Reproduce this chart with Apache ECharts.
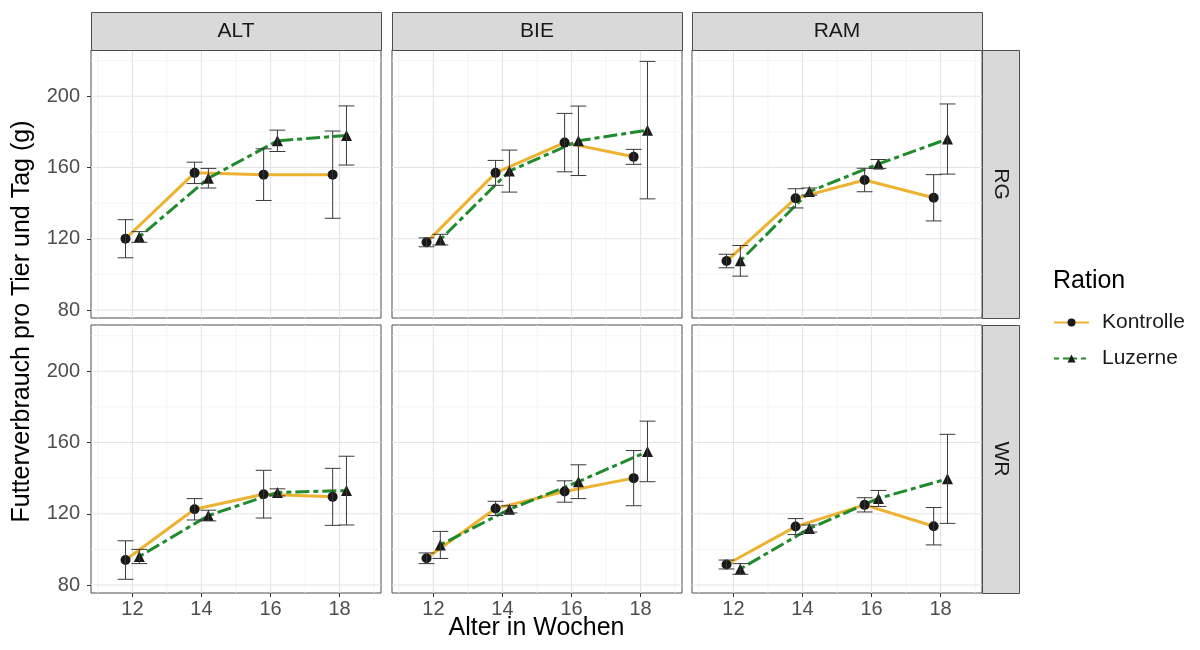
<!DOCTYPE html>
<html>
<head>
<meta charset="utf-8">
<script src="https://cdn.jsdelivr.net/npm/echarts@6/dist/echarts.min.js"></script>
<style>
  html, body { margin: 0; padding: 0; background: #fff; }
  #chart { width: 1200px; height: 650px; }
</style>
</head>
<body>
<div id="chart"></div>
<script>
// Feed intake per animal and day by age, station (columns) and housing (rows)
const weeks = [12, 14, 16, 18];
const stations = ['ALT', 'BIE', 'RAM'];
const housings = ['RG', 'WR'];
const rations = ['Kontrolle', 'Luzerne'];
const yTicks = [80, 120, 160, 200];
const yMinor = [100, 140, 180, 220];
const xMinor = [11, 13, 15, 17, 19];

// means and error half-widths (g), one value per week
const ALT_RG_Kontrolle = [120, 157, 156, 156];
const ALT_RG_Kontrolle_err = [10.7, 6, 14.5, 24.5];
const ALT_RG_Luzerne = [121, 154, 175, 178];
const ALT_RG_Luzerne_err = [3, 5.5, 6, 16.6];
const BIE_RG_Kontrolle = [118, 157, 174, 166];
const BIE_RG_Kontrolle_err = [2.5, 7, 16.4, 4.2];
const BIE_RG_Luzerne = [119.5, 158, 175, 181];
const BIE_RG_Luzerne_err = [3, 11.8, 19.5, 38.6];
const RAM_RG_Kontrolle = [107.5, 142.7, 153, 143];
const RAM_RG_Kontrolle_err = [3.8, 5.4, 6.6, 13];
const RAM_RG_Luzerne = [107.6, 146.5, 162, 176];
const RAM_RG_Luzerne_err = [8.6, 2, 2.5, 19.7];
const ALT_WR_Kontrolle = [94, 122.5, 131, 129.5];
const ALT_WR_Kontrolle_err = [10.8, 6, 13.4, 16];
const ALT_WR_Luzerne = [96, 119, 132, 133];
const ALT_WR_Luzerne_err = [4, 3, 2, 19.3];
const BIE_WR_Kontrolle = [95, 123, 132.5, 140];
const BIE_WR_Kontrolle_err = [3, 4, 6, 15.5];
const BIE_WR_Luzerne = [102.5, 122.5, 138, 155];
const BIE_WR_Luzerne_err = [7.6, 2, 9.5, 17];
const RAM_WR_Kontrolle = [91.5, 112.8, 125, 113];
const RAM_WR_Kontrolle_err = [2.5, 4.5, 4, 10.5];
const RAM_WR_Luzerne = [89, 111.7, 128.6, 139.6];
const RAM_WR_Luzerne_err = [3, 2, 4.5, 25];

const table = {
  ALT_RG_Kontrolle: [ALT_RG_Kontrolle, ALT_RG_Kontrolle_err],
  ALT_RG_Luzerne: [ALT_RG_Luzerne, ALT_RG_Luzerne_err],
  BIE_RG_Kontrolle: [BIE_RG_Kontrolle, BIE_RG_Kontrolle_err],
  BIE_RG_Luzerne: [BIE_RG_Luzerne, BIE_RG_Luzerne_err],
  RAM_RG_Kontrolle: [RAM_RG_Kontrolle, RAM_RG_Kontrolle_err],
  RAM_RG_Luzerne: [RAM_RG_Luzerne, RAM_RG_Luzerne_err],
  ALT_WR_Kontrolle: [ALT_WR_Kontrolle, ALT_WR_Kontrolle_err],
  ALT_WR_Luzerne: [ALT_WR_Luzerne, ALT_WR_Luzerne_err],
  BIE_WR_Kontrolle: [BIE_WR_Kontrolle, BIE_WR_Kontrolle_err],
  BIE_WR_Luzerne: [BIE_WR_Luzerne, BIE_WR_Luzerne_err],
  RAM_WR_Kontrolle: [RAM_WR_Kontrolle, RAM_WR_Kontrolle_err],
  RAM_WR_Luzerne: [RAM_WR_Luzerne, RAM_WR_Luzerne_err]
};

// layout
const FONT = '"Liberation Sans", Arial, sans-serif';
const colLeft = [91, 392, 692];
const panelW = 290;
const rowTop = [50, 325];
const panelH = 268;
const stripH = 38;
const stripW = 37;
const X_MIN = 10.8, X_MAX = 19.2;
const Y_MIN = 75.5, Y_MAX = 226;
const dodge = { Kontrolle: -0.2, Luzerne: 0.2 };
const style = {
  Kontrolle: { color: '#EDB230', type: 'solid', symbol: 'circle', size: 10 },
  Luzerne: { color: '#218A2C', type: [5, 4, 14, 4], symbol: 'triangle', size: 11 }
};

const grids = [], xAxes = [], yAxes = [], series = [], graphics = [];

housings.forEach((h, r) => {
  stations.forEach((s, c) => {
    const i = grids.length;
    grids.push({
      left: colLeft[c], top: rowTop[r], width: panelW, height: panelH,
      show: true, backgroundColor: '#fff', borderColor: '#4d4d4d', borderWidth: 1
    });
    xAxes.push({
      type: 'value', gridIndex: i, min: X_MIN, max: X_MAX,
      axisLine: { show: false }, splitLine: { show: false },
      axisTick: { show: r === 1, customValues: weeks, length: 4, lineStyle: { color: '#333' } },
      axisLabel: { show: r === 1, customValues: weeks, margin: 6, color: '#4d4d4d', fontSize: 20, fontFamily: FONT }
    });
    yAxes.push({
      type: 'value', gridIndex: i, min: Y_MIN, max: Y_MAX,
      axisLine: { show: false }, splitLine: { show: false },
      axisTick: { show: c === 0, customValues: yTicks, length: 4, lineStyle: { color: '#333' } },
      axisLabel: { show: c === 0, customValues: yTicks, margin: 11, color: '#4d4d4d', fontSize: 20, fontFamily: FONT }
    });

    // panel grid lines (major and minor)
    const gridData = [];
    weeks.forEach(v => gridData.push([0, v, 1]));
    xMinor.forEach(v => gridData.push([0, v, 0]));
    yTicks.forEach(v => gridData.push([1, v, 1]));
    yMinor.forEach(v => gridData.push([1, v, 0]));
    series.push({
      type: 'custom', xAxisIndex: i, yAxisIndex: i, silent: true, z: 1,
      data: gridData,
      encode: { x: [], y: [] },
      renderItem: (params, api) => {
        const isY = api.value(0) === 1;
        const v = api.value(1);
        const major = api.value(2) === 1;
        const p1 = isY ? api.coord([X_MIN, v]) : api.coord([v, Y_MIN]);
        const p2 = isY ? api.coord([X_MAX, v]) : api.coord([v, Y_MAX]);
        return {
          type: 'line',
          shape: { x1: p1[0], y1: p1[1], x2: p2[0], y2: p2[1] },
          style: { stroke: major ? '#E4E4E4' : '#F1F1F1', lineWidth: major ? 1.1 : 0.8 }
        };
      }
    });

    rations.forEach(rat => {
      const [mean, err] = table[s + '_' + h + '_' + rat];
      const st = style[rat];
      series.push({
        type: 'line', name: rat, xAxisIndex: i, yAxisIndex: i, z: 3,
        data: weeks.map((w, k) => [w + dodge[rat], mean[k]]),
        symbol: st.symbol, symbolSize: st.size, showSymbol: true,
        itemStyle: { color: '#1a1a1a' },
        lineStyle: { color: st.color, width: 3, type: st.type },
        emphasis: { disabled: true },
        animation: false
      });
      series.push({
        type: 'custom', xAxisIndex: i, yAxisIndex: i, z: 4, silent: true,
        data: weeks.map((w, k) => [w + dodge[rat], mean[k] - err[k], mean[k] + err[k]]),
        encode: { x: 0, y: [1, 2] },
        renderItem: (params, api) => {
          const x = api.value(0);
          const lo = api.coord([x, api.value(1)]);
          const hi = api.coord([x, api.value(2)]);
          const half = (api.coord([x + 0.23, 0])[0] - api.coord([x, 0])[0]);
          const ls = { stroke: '#3a3a3a', lineWidth: 1 };
          return {
            type: 'group',
            children: [
              { type: 'line', shape: { x1: lo[0], y1: lo[1], x2: hi[0], y2: hi[1] }, style: ls },
              { type: 'line', shape: { x1: lo[0] - half, y1: lo[1], x2: lo[0] + half, y2: lo[1] }, style: ls },
              { type: 'line', shape: { x1: hi[0] - half, y1: hi[1], x2: hi[0] + half, y2: hi[1] }, style: ls }
            ]
          };
        }
      });
    });
  });
});

// facet strips: stations on top, housing on the right
stations.forEach((s, c) => {
  graphics.push({
    type: 'rect', left: colLeft[c], top: rowTop[0] - stripH,
    shape: { width: panelW, height: stripH },
    style: { fill: '#D9D9D9', stroke: '#4d4d4d', lineWidth: 1 }, z: 10
  });
  graphics.push({
    type: 'text', x: colLeft[c] + panelW / 2, y: rowTop[0] - stripH / 2,
    style: { text: s, fill: '#1a1a1a', font: '21px ' + FONT, align: 'center', verticalAlign: 'middle' }, z: 11
  });
});
housings.forEach((h, r) => {
  const x0 = colLeft[2] + panelW;
  graphics.push({
    type: 'rect', left: x0, top: rowTop[r],
    shape: { width: stripW, height: panelH },
    style: { fill: '#D9D9D9', stroke: '#4d4d4d', lineWidth: 1 }, z: 10
  });
  graphics.push({
    type: 'text', x: x0 + stripW / 2, y: rowTop[r] + panelH / 2, rotation: -Math.PI / 2,
    style: { text: h, fill: '#1a1a1a', font: '21px ' + FONT, align: 'center', verticalAlign: 'middle' }, z: 11
  });
});

// axis titles and legend title
graphics.push({
  type: 'text', x: (colLeft[0] + colLeft[2] + panelW) / 2, y: 628,
  style: { text: 'Alter in Wochen', fill: '#000', font: '25px ' + FONT, align: 'center', verticalAlign: 'middle' }
});
graphics.push({
  type: 'text', x: 22, y: (rowTop[0] + rowTop[1] + panelH) / 2, rotation: Math.PI / 2,
  style: { text: 'Futterverbrauch pro Tier und Tag (g)', fill: '#000', font: '25px ' + FONT, align: 'center', verticalAlign: 'middle' }
});
graphics.push({
  type: 'text', x: 1053, y: 281,
  style: { text: 'Ration', fill: '#000', font: '25px ' + FONT, align: 'left', verticalAlign: 'middle' }
});

const chart = echarts.init(document.getElementById('chart'), null, { renderer: 'canvas' });
chart.setOption({
  animation: false,
  backgroundColor: '#fff',
  grid: grids,
  xAxis: xAxes,
  yAxis: yAxes,
  legend: {
    data: rations, orient: 'vertical', left: 1053, top: 312, padding: 0,
    itemWidth: 35, itemHeight: 10, itemGap: 15, selectedMode: false,
    textStyle: { fontSize: 21, color: '#1a1a1a', fontFamily: FONT, padding: [0, 0, 0, 8] }
  },
  series: series,
  graphic: graphics
});
</script>
</body>
</html>
